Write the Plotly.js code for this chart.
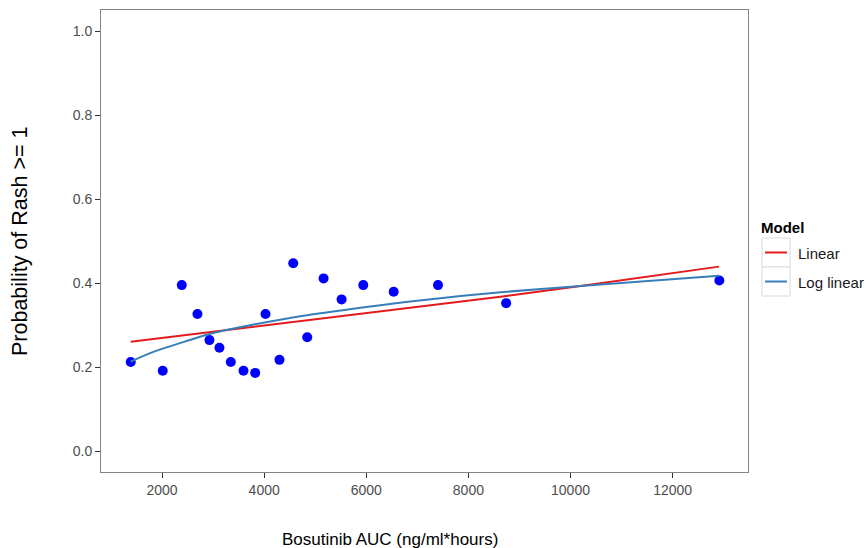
<!DOCTYPE html>
<html>
<head>
<meta charset="utf-8">
<script src="https://cdn.plot.ly/plotly-3.0.1.min.js"></script>
<style>html,body{margin:0;padding:0;background:#fff;}</style>
</head>
<body>
<div id="chart" style="width:867px;height:548px;"></div>
<script>
// Observed data
const auc = [1386, 2013, 2386, 2693, 2928, 3124, 3346, 3595, 3824, 4026, 4300, 4569, 4843, 5163, 5516, 5941, 6536, 7405, 8739, 12915];
const prob = [0.212, 0.191, 0.395, 0.326, 0.264, 0.246, 0.212, 0.191, 0.186, 0.326, 0.217, 0.447, 0.271, 0.411, 0.361, 0.395, 0.379, 0.395, 0.352, 0.406];

// Linear model curve
const linX = [1386, 3006, 4706, 7647, 8627, 10196, 12908];
const linY = [0.260, 0.284, 0.310, 0.353, 0.367, 0.393, 0.439];

// Log linear model curve
const logX = [1386, 1830, 2484, 3006, 3791, 4706, 6000, 7000, 8627, 10196, 12908];
const logY = [0.213, 0.236, 0.262, 0.281, 0.301, 0.321, 0.343, 0.358, 0.378, 0.393, 0.417];

const xTicks = [2000, 4000, 6000, 8000, 10000, 12000];
const yTicks = [0.0, 0.2, 0.4, 0.6, 0.8, 1.0];
const yTickText = ["0.0", "0.2", "0.4", "0.6", "0.8", "1.0"];

const modelNames = ["Linear", "Log linear"];
const modelColors = ["#e41a1c", "#377eb8"];

const FONT = "'Liberation Sans', Arial, sans-serif";

const traces = [
  {x: auc, y: prob, type: 'scatter', mode: 'markers',
   marker: {color: '#0000ff', size: 10}, showlegend: false, hoverinfo: 'x+y'},
  {x: linX, y: linY, type: 'scatter', mode: 'lines', name: modelNames[0],
   line: {color: modelColors[0], width: 2}, showlegend: false},
  {x: logX, y: logY, type: 'scatter', mode: 'lines', name: modelNames[1],
   line: {color: modelColors[1], width: 2, shape: 'spline', smoothing: 0.8}, showlegend: false}
];

// pixel -> paper helpers for the manual legend
const L = 101, R = 748, T = 10, B = 472;
const px = v => (v - L) / (R - L);
const py = v => (B - v) / (B - T);

const shapes = [];
const annotations = [];
// Legend key boxes & lines
const boxTops = [238, 267];
for (let i = 0; i < 2; i++) {
  shapes.push({type: 'rect', xref: 'paper', yref: 'paper',
    x0: px(762), x1: px(790), y0: py(boxTops[i]), y1: py(boxTops[i] + 29),
    line: {color: '#dadada', width: 1}, fillcolor: '#ffffff'});
  const yc = boxTops[i] + 14.5;
  shapes.push({type: 'line', xref: 'paper', yref: 'paper',
    x0: px(765), x1: px(787), y0: py(yc), y1: py(yc),
    line: {color: modelColors[i], width: 2}});
  annotations.push({xref: 'paper', yref: 'paper', x: px(796), y: py(yc + 1),
    text: modelNames[i], showarrow: false, xanchor: 'left', yanchor: 'middle',
    font: {family: FONT, size: 15, color: '#1a1a1a'}});
}
annotations.push({xref: 'paper', yref: 'paper', x: px(759), y: py(227),
  text: '<b>Model</b>', showarrow: false, xanchor: 'left', yanchor: 'middle',
  font: {family: FONT, size: 15, color: '#000'}});
// Axis titles
annotations.push({xref: 'paper', yref: 'paper', x: px(390), y: py(539),
  text: 'Bosutinib AUC (ng/ml*hours)', showarrow: false, xanchor: 'center', yanchor: 'middle',
  font: {family: FONT, size: 17, color: '#000'}});
annotations.push({xref: 'paper', yref: 'paper', x: px(20), y: py(242),
  text: 'Probability of Rash >= 1', showarrow: false, textangle: -90,
  xanchor: 'center', yanchor: 'middle',
  font: {family: FONT, size: 21.5, color: '#000'}});

const layout = {
  width: 867, height: 548,
  margin: {l: L, r: 867 - R, t: T, b: 548 - B, pad: 0},
  paper_bgcolor: '#fff', plot_bgcolor: '#fff',
  showlegend: false,
  font: {family: FONT},
  xaxis: {
    range: [804, 13476], tickvals: xTicks, ticktext: xTicks.map(String),
    showgrid: false, zeroline: false,
    showline: true, mirror: true, linecolor: '#858585', linewidth: 1,
    ticks: 'outside', ticklen: 5, tickcolor: '#333', tickwidth: 1,
    tickfont: {family: FONT, size: 14, color: '#4d4d4d'}
  },
  yaxis: {
    range: [-0.05, 1.05], tickvals: yTicks, ticktext: yTickText,
    showgrid: false, zeroline: false,
    showline: true, mirror: true, linecolor: '#858585', linewidth: 1,
    ticks: 'outside', ticklen: 5, tickcolor: '#333', tickwidth: 1,
    tickfont: {family: FONT, size: 14, color: '#4d4d4d'}
  },
  shapes: shapes,
  annotations: annotations
};

Plotly.newPlot('chart', traces, layout, {displayModeBar: false, staticPlot: true});
</script>
</body>
</html>
